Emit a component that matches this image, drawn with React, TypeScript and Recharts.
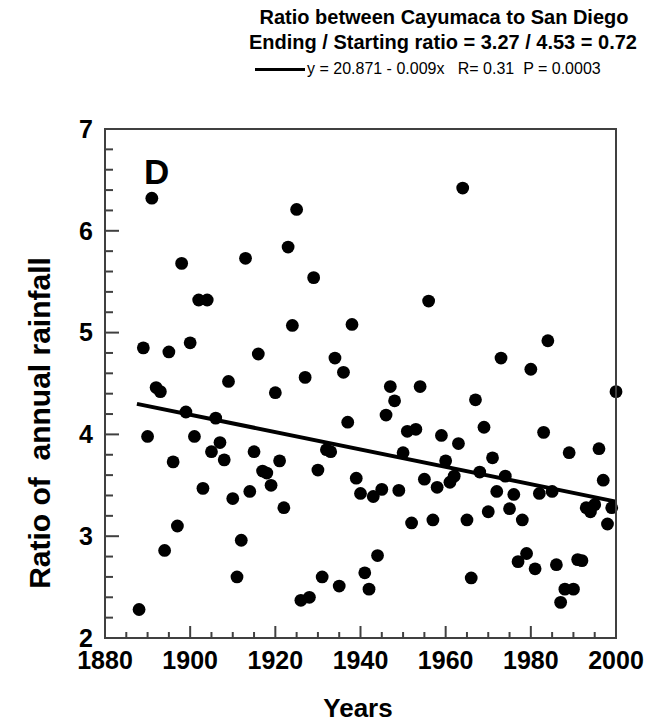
import React from 'react';
import { ScatterChart, Scatter, XAxis, YAxis } from 'recharts';

const years = [
  1888, 1889, 1890, 1891, 1892, 1893, 1894, 1895, 1896, 1897, 1898, 1899,
  1900, 1901, 1902, 1903, 1904, 1905, 1906, 1907, 1908, 1909, 1910, 1911,
  1912, 1913, 1914, 1915, 1916, 1917, 1918, 1919, 1920, 1921, 1922, 1923,
  1924, 1925, 1926, 1927, 1928, 1929, 1930, 1931, 1932, 1933, 1934, 1935,
  1936, 1937, 1938, 1939, 1940, 1941, 1942, 1943, 1944, 1945, 1946, 1947,
  1948, 1949, 1950, 1951, 1952, 1953, 1954, 1955, 1956, 1957, 1958, 1959,
  1960, 1961, 1962, 1963, 1964, 1965, 1966, 1967, 1968, 1969, 1970, 1971,
  1972, 1973, 1974, 1975, 1976, 1977, 1978, 1979, 1980, 1981, 1982, 1983,
  1984, 1985, 1986, 1987, 1988, 1989, 1990, 1991, 1992, 1993, 1994, 1995,
  1996, 1997, 1998, 1999, 2000,
];
const ratios = [
  2.28, 4.85, 3.98, 6.32, 4.46, 4.42, 2.86, 4.81, 3.73, 3.10, 5.68, 4.22,
  4.90, 3.98, 5.32, 3.47, 5.32, 3.83, 4.16, 3.92, 3.75, 4.52, 3.37, 2.60,
  2.96, 5.73, 3.44, 3.83, 4.79, 3.64, 3.62, 3.50, 4.41, 3.74, 3.28, 5.84,
  5.07, 6.21, 2.37, 4.56, 2.40, 5.54, 3.65, 2.60, 3.85, 3.83, 4.75, 2.51,
  4.61, 4.12, 5.08, 3.57, 3.42, 2.64, 2.48, 3.39, 2.81, 3.46, 4.19, 4.47,
  4.33, 3.45, 3.82, 4.03, 3.13, 4.05, 4.47, 3.56, 5.31, 3.16, 3.48, 3.99,
  3.74, 3.53, 3.59, 3.91, 6.42, 3.16, 2.59, 4.34, 3.63, 4.07, 3.24, 3.77,
  3.44, 4.75, 3.59, 3.27, 3.41, 2.75, 3.16, 2.83, 4.64, 2.68, 3.42, 4.02,
  4.92, 3.44, 2.72, 2.35, 2.48, 3.82, 2.48, 2.77, 2.76, 3.28, 3.24, 3.31,
  3.86, 3.55, 3.12, 3.28, 4.42,
];
const trendYears = [1887.5, 2000];
const trendRatios = [4.3, 3.34];

const xTicks = [1880, 1885, 1890, 1895, 1900, 1905, 1910, 1915, 1920, 1925, 1930, 1935, 1940, 1945, 1950, 1955, 1960, 1965, 1970, 1975, 1980, 1985, 1990, 1995, 2000];
const xTickLabels = [1880, 1900, 1920, 1940, 1960, 1980, 2000];
const yTicks = [2, 2.2, 2.4, 2.6, 2.8, 3, 3.2, 3.4, 3.6, 3.8, 4, 4.2, 4.4, 4.6, 4.8, 5, 5.2, 5.4, 5.6, 5.8, 6, 6.2, 6.4, 6.6, 6.8, 7];
const yTickLabels = [2, 3, 4, 5, 6, 7];

const X_MIN = 1880;
const X_MAX = 2000;
const Y_MIN = 2;
const Y_MAX = 7;

const data = years.map((y, i) => ({ year: y, ratio: ratios[i] }));
const trendData = trendYears.map((y, i) => ({ year: y, ratio: trendRatios[i] }));

const FONT = '"Liberation Sans", Arial, Helvetica, sans-serif';
const AX = '#404040';
const TS = 6; // tickSize
const TM = 2; // tickMargin
const OFF = TS + TM;

const isMajorX = (v: number) => xTickLabels.indexOf(v) >= 0;
const isMajorY = (v: number) => yTickLabels.some((t) => Math.abs(t - v) < 1e-6);

const BottomTick = (p: any) => {
  const v = p.payload.value;
  const major = isMajorX(v);
  const y0 = p.y - OFF;
  return (
    <g>
      <line x1={p.x} x2={p.x} y1={y0} y2={y0 - (major ? 12 : 6)} stroke={AX} strokeWidth={2} />
      {major ? (
        <text x={p.x} y={y0 + 13} dy="0.71em" textAnchor="middle" fontSize={25} fontWeight={700} fill="#000" fontFamily={FONT}>
          {v}
        </text>
      ) : (
        <g />
      )}
    </g>
  );
};
const TopTick = (p: any) => {
  const y0 = p.y + OFF;
  return (
    <g>
      <line x1={p.x} x2={p.x} y1={y0} y2={y0 + (isMajorX(p.payload.value) ? 12 : 6)} stroke={AX} strokeWidth={2} />
    </g>
  );
};
const LeftTick = (p: any) => {
  const v = p.payload.value;
  const major = isMajorY(v);
  const x0 = p.x + OFF;
  return (
    <g>
      <line x1={x0} x2={x0 + (major ? 14 : 8)} y1={p.y} y2={p.y} stroke={AX} strokeWidth={2} />
      {major ? (
        <text x={x0 - 12} y={p.y} dy="0.355em" textAnchor="end" fontSize={25} fontWeight={700} fill="#000" fontFamily={FONT}>
          {Math.round(v)}
        </text>
      ) : (
        <g />
      )}
    </g>
  );
};
const RightTick = (p: any) => {
  const x0 = p.x - OFF;
  return (
    <g>
      <line x1={x0} x2={x0 - (isMajorY(p.payload.value) ? 14 : 8)} y1={p.y} y2={p.y} stroke={AX} strokeWidth={2} />
    </g>
  );
};

const Dot = (p: any) => <circle cx={p.cx} cy={p.cy} r={6.4} fill="#000" />;
const NoShape = () => <g />;

const txt = { position: 'absolute' as const, color: '#000', fontFamily: FONT, whiteSpace: 'pre' as const };

export default function App() {
  return (
    <div style={{ position: 'absolute', left: 0, top: 0, width: 648, height: 722, background: '#fff', overflow: 'hidden' }}>
      <ScatterChart width={648} height={722} margin={{ top: 99, right: 2, bottom: 0, left: 0 }}>
        <XAxis
          type="number"
          dataKey="year"
          domain={[X_MIN, X_MAX]}
          ticks={xTicks}
          interval={0}
          tickLine={false}
          axisLine={{ stroke: AX, strokeWidth: 2 }}
          tickSize={TS}
          tickMargin={TM}
          height={84}
          tick={BottomTick}
        />
        <XAxis
          xAxisId="top"
          orientation="top"
          type="number"
          domain={[X_MIN, X_MAX]}
          ticks={xTicks}
          interval={0}
          tickLine={false}
          axisLine={{ stroke: AX, strokeWidth: 2 }}
          tickSize={TS}
          tickMargin={TM}
          height={30}
          tick={TopTick}
        />
        <YAxis
          type="number"
          dataKey="ratio"
          domain={[Y_MIN, Y_MAX]}
          ticks={yTicks}
          interval={0}
          tickLine={false}
          axisLine={{ stroke: AX, strokeWidth: 2 }}
          tickSize={TS}
          tickMargin={TM}
          width={105}
          tick={LeftTick}
        />
        <YAxis
          yAxisId="right"
          orientation="right"
          type="number"
          domain={[Y_MIN, Y_MAX]}
          ticks={yTicks}
          interval={0}
          tickLine={false}
          axisLine={{ stroke: AX, strokeWidth: 2 }}
          tickSize={TS}
          tickMargin={TM}
          width={30}
          tick={RightTick}
        />
        <Scatter data={data} shape={Dot} isAnimationActive={false} />
        <Scatter data={trendData} shape={NoShape} line={{ stroke: '#000', strokeWidth: 4 }} isAnimationActive={false} />
      </ScatterChart>

      <div style={{ position: 'absolute', left: 104, top: 128, width: 513, height: 511, border: `2px solid ${AX}`, boxSizing: 'border-box', pointerEvents: 'none' }} />

      <div style={{ ...txt, left: 244, width: 400, top: 7, textAlign: 'center', fontSize: 20, lineHeight: '20px', fontWeight: 700 }}>
        Ratio between Cayumaca to San Diego
      </div>
      <div style={{ ...txt, left: 243, width: 400, top: 32, textAlign: 'center', fontSize: 20, lineHeight: '20px', fontWeight: 700 }}>
        Ending / Starting ratio = 3.27 / 4.53 = 0.72
      </div>
      <div style={{ position: 'absolute', left: 255, top: 68, width: 50, height: 3, background: '#000' }} />
      <div style={{ ...txt, left: 307, top: 61, fontSize: 16, lineHeight: '16px' }}>
        {'y = 20.871 - 0.009x   R= 0.31  P = 0.0003'}
      </div>
      <div style={{ ...txt, left: 144, top: 154, fontSize: 35, lineHeight: '35px', fontWeight: 700 }}>D</div>
      <div
        style={{
          ...txt,
          left: 40,
          top: 423,
          transform: 'translate(-50%, -50%) rotate(-90deg)',
          fontSize: 30,
          lineHeight: '30px',
          fontWeight: 700,
        }}
      >
        {'Ratio of  annual rainfall'}
      </div>
      <div style={{ ...txt, left: 258, width: 200, top: 697, textAlign: 'center', fontSize: 26, lineHeight: '22px', fontWeight: 700 }}>
        Years
      </div>
    </div>
  );
}
